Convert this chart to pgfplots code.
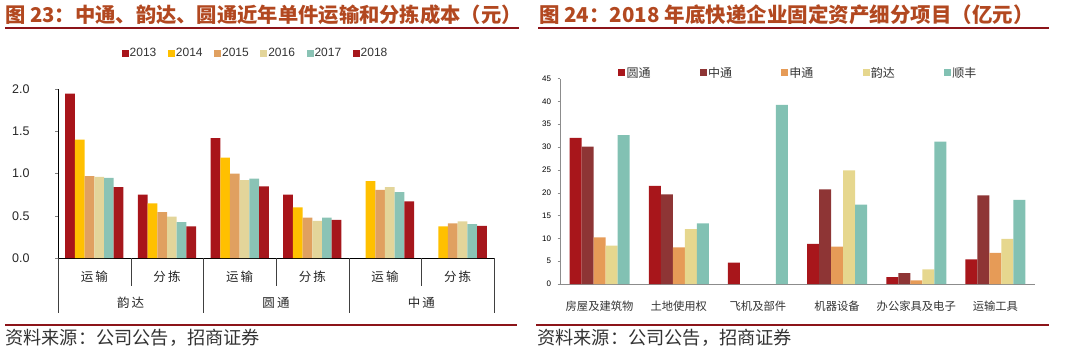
\documentclass[border=0pt]{standalone}
\usepackage{pgfplots}
\pgfplotsset{compat=1.18}
\usepackage{fontspec}
\setmainfont{Liberation Sans}
\newfontfamily\cjk{Noto Sans CJK SC}
\definecolor{titlec}{RGB}{178,72,32}
\definecolor{rulec}{RGB}{140,20,25}
\definecolor{ca}{RGB}{168,20,26}
\definecolor{cb}{RGB}{255,192,0}
\definecolor{cc}{RGB}{224,160,96}
\definecolor{cd}{RGB}{227,213,154}
\definecolor{ce}{RGB}{138,195,181}
\definecolor{cf}{RGB}{166,23,28}
\definecolor{ra}{RGB}{168,22,27}
\definecolor{rb}{RGB}{142,53,53}
\definecolor{rc}{RGB}{230,155,87}
\definecolor{rd}{RGB}{230,215,142}
\definecolor{re}{RGB}{130,193,179}
\definecolor{txt}{RGB}{51,51,51}
\begin{document}
\begin{tikzpicture}
\useasboundingbox (0,0) rectangle (1076pt,-356pt);
% ---------- titles and rules
\node[anchor=west, font=\cjk\bfseries\fontsize{20.3}{21}\selectfont, text=titlec, inner sep=0] at (5pt,-15pt) {图 23：中通、韵达、圆通近年单件运输和分拣成本（元）};
\draw[rulec, line width=2pt] (5pt,-28pt) -- (519pt,-28pt);
\node[anchor=west, font=\cjk\bfseries\fontsize{20.5}{21}\selectfont, text=titlec, inner sep=0] at (539pt,-15pt) {图 24：2018 年底快递企业固定资产细分项目（亿元）};
\draw[rulec, line width=2pt] (538pt,-28pt) -- (1049pt,-28pt);
\draw[rulec, line width=2pt] (5pt,-325pt) -- (517pt,-325pt);
\draw[rulec, line width=2pt] (536pt,-325pt) -- (1049pt,-325pt);
\node[anchor=west, font=\cjk\fontsize{18.2}{19}\selectfont, text=txt, inner sep=0] at (5pt,-338pt) {资料来源：公司公告，招商证券};
\node[anchor=west, font=\cjk\fontsize{18.2}{19}\selectfont, text=txt, inner sep=0] at (537pt,-338pt) {资料来源：公司公告，招商证券};
% ---------- left chart
\begin{axis}[
  at={(58pt,-258pt)}, anchor=south west,
  scale only axis, width=436pt, height=169pt,
  xmin=-0.5, xmax=5.5, ymin=0, ymax=2.0,
  axis lines=left, axis line style={-, black},
  ybar=0pt, bar width=9.7pt,
  xtick={0,...,5},
  xticklabels={运\,输,分\,拣,运\,输,分\,拣,运\,输,分\,拣},
  xticklabel style={font=\cjk\fontsize{12.5}{13}\selectfont, text=black!85, yshift=-6pt},
  major x tick style={draw=none},
  ytick={0,0.5,...,2.0},
  tick align=outside, major tick length=3pt,
  yticklabel style={font=\fontsize{12.5}{13}\selectfont, text=black!85, xshift=-22pt,
    /pgf/number format/.cd, fixed, fixed zerofill, precision=1, assume math mode=true},
  legend columns=6,
  legend style={at={(0.452,1.21)}, anchor=center, draw=none, fill=none,
    font=\fontsize{12}{13}\selectfont, text=txt,
    /tikz/every even column/.append style={column sep=10.5pt},
    nodes={inner sep=1pt}},
  legend image code/.code={\fill[#1] (0pt,-3.5pt) rectangle (7pt,3.5pt);},
]
\addplot[fill=ca, draw=none] coordinates {(0,1.945)(1,0.75)(2,1.42)(3,0.75)};
\addplot[fill=cb, draw=none] coordinates {(0,1.40)(1,0.647)(2,1.187)(3,0.60)(4,0.911)(5,0.375)};
\addplot[fill=cc, draw=none] coordinates {(0,0.97)(1,0.544)(2,0.998)(3,0.477)(4,0.805)(5,0.41)};
\addplot[fill=cd, draw=none] coordinates {(0,0.96)(1,0.49)(2,0.923)(3,0.438)(4,0.84)(5,0.434)};
\addplot[fill=ce, draw=none] coordinates {(0,0.947)(1,0.426)(2,0.939)(3,0.477)(4,0.78)(5,0.40)};
\addplot[fill=cf, draw=none] coordinates {(0,0.84)(1,0.375)(2,0.848)(3,0.45)(4,0.67)(5,0.379)};
\legend{2013,2014,2015,2016,2017,2018}
\end{axis}
% separators of the two-level category axis
\draw[black!75] (58pt,-258pt) -- (58pt,-313pt);
\draw[black!75] (203pt,-258pt) -- (203pt,-313pt);
\draw[black!75] (349pt,-258pt) -- (349pt,-313pt);
\draw[black!75] (494pt,-258pt) -- (494pt,-313pt);
\draw[black!75] (130.7pt,-258pt) -- (130.7pt,-286pt);
\draw[black!75] (276pt,-258pt) -- (276pt,-286pt);
\draw[black!75] (421.3pt,-258pt) -- (421.3pt,-286pt);
\node[font=\cjk\fontsize{12.5}{13}\selectfont, text=black!85] at (130.7pt,-303pt) {韵\,达};
\node[font=\cjk\fontsize{12.5}{13}\selectfont, text=black!85] at (276pt,-303pt) {圆\,通};
\node[font=\cjk\fontsize{12.5}{13}\selectfont, text=black!85] at (421.3pt,-303pt) {中\,通};
% ---------- right chart
\begin{axis}[
  at={(560pt,-284pt)}, anchor=south west,
  scale only axis, width=475pt, height=205.5pt,
  xmin=-0.5, xmax=5.5, ymin=0, ymax=45,
  axis lines=left, axis line style={-, black!45},
  ybar=0pt, bar width=12pt,
  xtick={0,...,5},
  xticklabels={房屋及建筑物,土地使用权,飞机及部件,机器设备,办公家具及电子,运输工具},
  xticklabel style={font=\cjk\fontsize{11.3}{12}\selectfont, text=txt, yshift=-11pt},
  major x tick style={draw=none},
  extra x ticks={0.5,1.5,2.5,3.5,4.5,5.5},
  extra x tick labels={},
  extra x tick style={major tick length=2.5pt, tick align=inside, tick style={black!45, draw}},
  ytick={0,5,...,45},
  tick align=outside, major tick length=2.5pt,
  major y tick style={black!45},
  yticklabel style={font=\fontsize{8}{9}\selectfont, text=black, xshift=-3pt,
    /pgf/number format/assume math mode=true},
  legend columns=5,
  legend style={at={(0.501,1.027)}, anchor=center, draw=none, fill=none,
    font=\cjk\fontsize{12}{13}\selectfont, text=txt,
    /tikz/every even column/.append style={column sep=48pt},
    nodes={inner sep=1.2pt}},
  legend image code/.code={\fill[#1] (0pt,-3.5pt) rectangle (7pt,3.5pt);},
]
\addplot[fill=ra, draw=none] coordinates {(0,32.0)(1,21.5)(2,4.7)(3,8.8)(4,1.5)(5,5.4)};
\addplot[fill=rb, draw=none] coordinates {(0,30.1)(1,19.6)(3,20.7)(4,2.4)(5,19.4)};
\addplot[fill=rc, draw=none] coordinates {(0,10.2)(1,8.0)(3,8.2)(4,0.8)(5,6.8)};
\addplot[fill=rd, draw=none] coordinates {(0,8.4)(1,12.0)(3,24.9)(4,3.2)(5,9.9)};
\addplot[fill=re, draw=none] coordinates {(0,32.6)(1,13.3)(2,39.2)(3,17.4)(4,31.2)(5,18.4)};
\legend{圆通,中通,申通,韵达,顺丰}
\end{axis}
\end{tikzpicture}
\end{document}
